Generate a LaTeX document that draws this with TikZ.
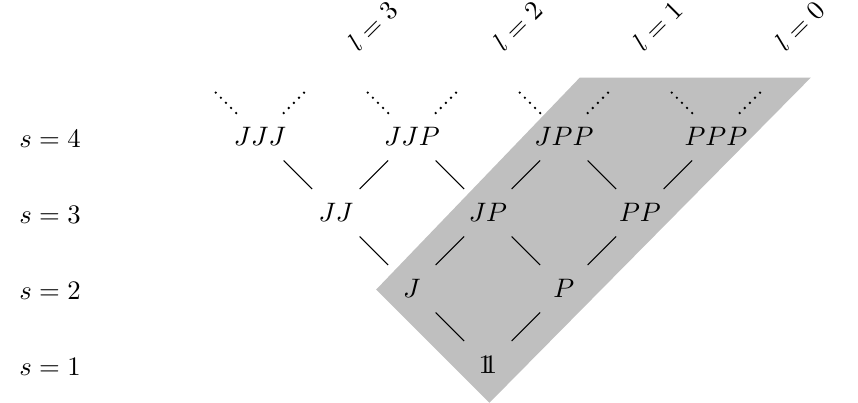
\documentclass[tikz,border=0pt]{standalone}
\newcommand{\unitone}{\mathrm{1\kern-0.3em1}}
\begin{document}
\begin{tikzpicture}[v/.style={circle,minimum size=0.87cm,inner sep=0pt},
    dots/.style={line width=1pt,dash pattern=on 0pt off 2.7pt,line cap=round}]
\useasboundingbox (-6.42,-0.5) rectangle (4.87,4.8);
\fill[black!25] (0.02,-0.5)--(-1.47,0.99)--(1.21,3.78)--(4.25,3.78)--cycle;

% nodes of the lattice
\node[v] (e) at (0,0) {$\unitone$};
\node[v] (J) at (-1,1) {$J$};
\node[v] (P) at (1,1) {$P$};
\node[v] (JJ) at (-2,2) {$JJ$};
\node[v] (JP) at (0,2) {$JP$};
\node[v] (PP) at (2,2) {$PP$};
\node[v] (JJJ) at (-3,3) {$JJJ$};
\node[v] (JJP) at (-1,3) {$JJP$};
\node[v] (JPP) at (1,3) {$JPP$};
\node[v] (PPP) at (3,3) {$PPP$};

\draw (e)--(J);  \draw (e)--(P);
\draw (J)--(JJ); \draw (J)--(JP); \draw (P)--(JP); \draw (P)--(PP);
\draw (JJ)--(JJJ); \draw (JJ)--(JJP); \draw (JP)--(JJP); \draw (JP)--(JPP);
\draw (PP)--(JPP); \draw (PP)--(PPP);

\foreach \x/\n in {-3/JJJ,-1/JJP,1/JPP,3/PPP}
{
    \coordinate (\n a) at (\x-0.64,3.64);
    \coordinate (\n b) at (\x+0.64,3.64);
    \draw[dots] (\n)--(\n a);
    \draw[dots] (\n)--(\n b);
}

\foreach \s in {1,...,4}
{
    \node[anchor=west] (s\s) at (-6.29,\s-1.03) {$s=\s$};
}

\node[rotate=45] (l3) at (-1.52,4.46) {$l=3$};
\node[rotate=45] (l2) at (0.39,4.46) {$l=2$};
\node[rotate=45] (l1) at (2.23,4.46) {$l=1$};
\node[rotate=45] (l0) at (4.1,4.46) {$l=0$};

\end{tikzpicture}
\end{document}
